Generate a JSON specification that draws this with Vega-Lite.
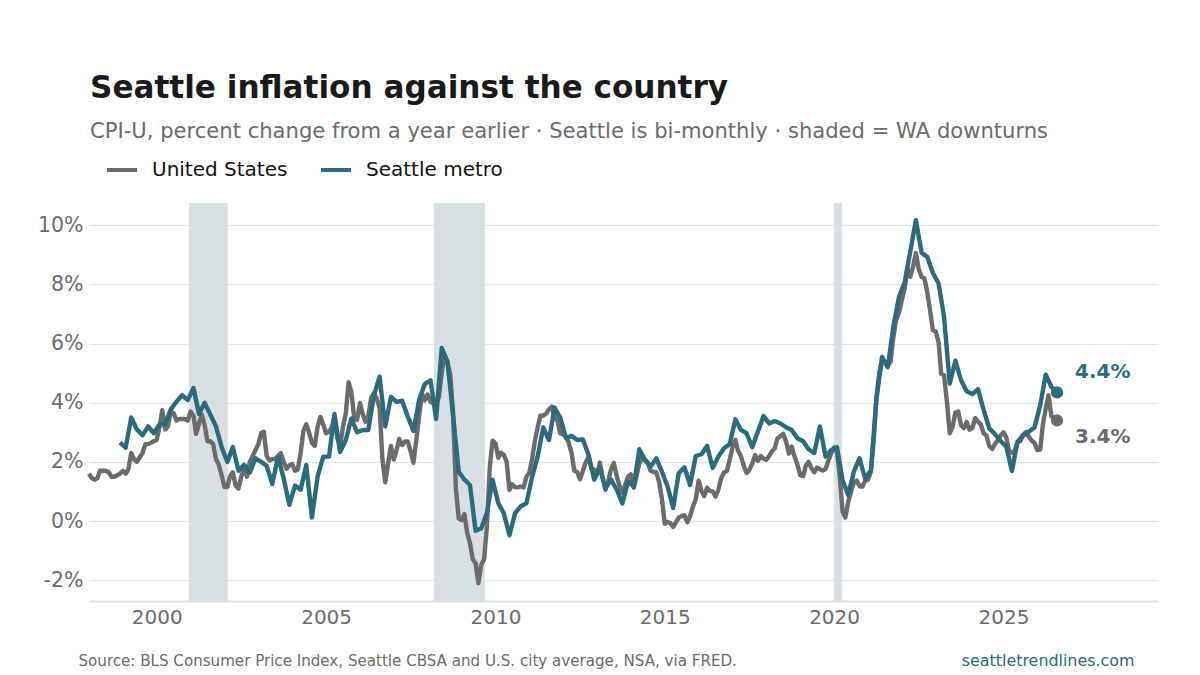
{"$schema":"https://vega.github.io/schema/vega-lite/v6.json","width":1069,"height":398,"autosize":{"type":"none"},"padding":{"left":89,"top":203,"right":42,"bottom":74},"background":"white",
"title":{"text":"Seattle inflation against the country","subtitle":"CPI-U, percent change from a year earlier · Seattle is bi-monthly · shaded = WA downturns","anchor":"start","frame":"group","font":"DejaVu Sans","fontSize":31.1,"fontWeight":"bold","color":"#1a1a1a","subtitleFont":"DejaVu Sans","subtitleFontSize":21.1,"subtitleColor":"#6b6b6b","subtitlePadding":17,"offset":11,"dx":1},
"config":{"view":{"stroke":null},"font":"DejaVu Sans"},
"datasets":{
"downturns":[{"start":"2000-12-15","end":"2002-02-05"},{"start":"2008-03-10","end":"2009-09-10"},{"start":"2020-01-01","end":"2020-03-28"}],
"latest":[{"series":"United States","date":"2026-08-01","value":3.4,"label":"3.4%"},{"series":"Seattle metro","date":"2026-08-01","value":4.35,"label":"4.4%"}],
"us":[
{"date":"1998-01-01","value":1.6},{"date":"1998-02-01","value":1.45},{"date":"1998-03-01","value":1.4},{"date":"1998-04-01","value":1.45},{"date":"1998-05-01","value":1.7},{"date":"1998-06-01","value":1.7},{"date":"1998-07-01","value":1.7},{"date":"1998-08-01","value":1.65},{"date":"1998-09-01","value":1.5},{"date":"1998-10-01","value":1.5},{"date":"1998-11-01","value":1.55},{"date":"1998-12-01","value":1.6},
{"date":"1999-01-01","value":1.7},{"date":"1999-02-01","value":1.6},{"date":"1999-03-01","value":1.75},{"date":"1999-04-01","value":2.3},{"date":"1999-05-01","value":2.1},{"date":"1999-06-01","value":2.0},{"date":"1999-07-01","value":2.15},{"date":"1999-08-01","value":2.3},{"date":"1999-09-01","value":2.6},{"date":"1999-10-01","value":2.6},{"date":"1999-11-01","value":2.65},{"date":"1999-12-01","value":2.7},
{"date":"2000-01-01","value":2.75},{"date":"2000-02-01","value":3.2},{"date":"2000-03-01","value":3.75},{"date":"2000-04-01","value":3.1},{"date":"2000-05-01","value":3.2},{"date":"2000-06-01","value":3.7},{"date":"2000-07-01","value":3.65},{"date":"2000-08-01","value":3.4},{"date":"2000-09-01","value":3.45},{"date":"2000-10-01","value":3.45},{"date":"2000-11-01","value":3.45},{"date":"2000-12-01","value":3.4},
{"date":"2001-01-01","value":3.7},{"date":"2001-02-01","value":3.55},{"date":"2001-03-01","value":2.95},{"date":"2001-04-01","value":3.3},{"date":"2001-05-01","value":3.6},{"date":"2001-06-01","value":3.25},{"date":"2001-07-01","value":2.7},{"date":"2001-08-01","value":2.7},{"date":"2001-09-01","value":2.6},{"date":"2001-10-01","value":2.1},{"date":"2001-11-01","value":1.9},{"date":"2001-12-01","value":1.55},
{"date":"2002-01-01","value":1.15},{"date":"2002-02-01","value":1.15},{"date":"2002-03-01","value":1.5},{"date":"2002-04-01","value":1.65},{"date":"2002-05-01","value":1.2},{"date":"2002-06-01","value":1.1},{"date":"2002-07-01","value":1.5},{"date":"2002-08-01","value":1.8},{"date":"2002-09-01","value":1.5},{"date":"2002-10-01","value":2.0},{"date":"2002-11-01","value":2.2},{"date":"2002-12-01","value":2.4},
{"date":"2003-01-01","value":2.6},{"date":"2003-02-01","value":2.98},{"date":"2003-03-01","value":3.02},{"date":"2003-04-01","value":2.2},{"date":"2003-05-01","value":2.05},{"date":"2003-06-01","value":2.1},{"date":"2003-07-01","value":2.1},{"date":"2003-08-01","value":2.2},{"date":"2003-09-01","value":2.3},{"date":"2003-10-01","value":2.0},{"date":"2003-11-01","value":1.77},{"date":"2003-12-01","value":1.88},
{"date":"2004-01-01","value":1.93},{"date":"2004-02-01","value":1.7},{"date":"2004-03-01","value":1.74},{"date":"2004-04-01","value":2.3},{"date":"2004-05-01","value":3.05},{"date":"2004-06-01","value":3.27},{"date":"2004-07-01","value":2.99},{"date":"2004-08-01","value":2.65},{"date":"2004-09-01","value":2.54},{"date":"2004-10-01","value":3.19},{"date":"2004-11-01","value":3.52},{"date":"2004-12-01","value":3.26},
{"date":"2005-01-01","value":2.97},{"date":"2005-02-01","value":3.01},{"date":"2005-03-01","value":3.15},{"date":"2005-04-01","value":3.51},{"date":"2005-05-01","value":2.8},{"date":"2005-06-01","value":2.53},{"date":"2005-07-01","value":3.17},{"date":"2005-08-01","value":3.64},{"date":"2005-09-01","value":4.69},{"date":"2005-10-01","value":4.35},{"date":"2005-11-01","value":3.46},{"date":"2005-12-01","value":3.42},
{"date":"2006-01-01","value":3.99},{"date":"2006-02-01","value":3.6},{"date":"2006-03-01","value":3.36},{"date":"2006-04-01","value":3.55},{"date":"2006-05-01","value":4.17},{"date":"2006-06-01","value":4.32},{"date":"2006-07-01","value":4.15},{"date":"2006-08-01","value":3.82},{"date":"2006-09-01","value":2.06},{"date":"2006-10-01","value":1.31},{"date":"2006-11-01","value":1.97},{"date":"2006-12-01","value":2.54},
{"date":"2007-01-01","value":2.08},{"date":"2007-02-01","value":2.42},{"date":"2007-03-01","value":2.78},{"date":"2007-04-01","value":2.57},{"date":"2007-05-01","value":2.69},{"date":"2007-06-01","value":2.69},{"date":"2007-07-01","value":2.36},{"date":"2007-08-01","value":1.97},{"date":"2007-09-01","value":2.76},{"date":"2007-10-01","value":3.54},{"date":"2007-11-01","value":4.31},{"date":"2007-12-01","value":4.08},
{"date":"2008-01-01","value":4.28},{"date":"2008-02-01","value":4.03},{"date":"2008-03-01","value":3.98},{"date":"2008-04-01","value":3.94},{"date":"2008-05-01","value":4.18},{"date":"2008-06-01","value":5.02},{"date":"2008-07-01","value":5.6},{"date":"2008-08-01","value":5.37},{"date":"2008-09-01","value":4.94},{"date":"2008-10-01","value":3.66},{"date":"2008-11-01","value":1.07},{"date":"2008-12-01","value":0.09},
{"date":"2009-01-01","value":0.03},{"date":"2009-02-01","value":0.24},{"date":"2009-03-01","value":-0.38},{"date":"2009-04-01","value":-0.74},{"date":"2009-05-01","value":-1.28},{"date":"2009-06-01","value":-1.43},{"date":"2009-07-01","value":-2.1},{"date":"2009-08-01","value":-1.48},{"date":"2009-09-01","value":-1.29},{"date":"2009-10-01","value":-0.18},{"date":"2009-11-01","value":1.84},{"date":"2009-12-01","value":2.72},
{"date":"2010-01-01","value":2.63},{"date":"2010-02-01","value":2.14},{"date":"2010-03-01","value":2.31},{"date":"2010-04-01","value":2.24},{"date":"2010-05-01","value":2.02},{"date":"2010-06-01","value":1.05},{"date":"2010-07-01","value":1.24},{"date":"2010-08-01","value":1.15},{"date":"2010-09-01","value":1.14},{"date":"2010-10-01","value":1.17},{"date":"2010-11-01","value":1.14},{"date":"2010-12-01","value":1.5},
{"date":"2011-01-01","value":1.63},{"date":"2011-02-01","value":2.11},{"date":"2011-03-01","value":2.68},{"date":"2011-04-01","value":3.16},{"date":"2011-05-01","value":3.57},{"date":"2011-06-01","value":3.56},{"date":"2011-07-01","value":3.63},{"date":"2011-08-01","value":3.77},{"date":"2011-09-01","value":3.87},{"date":"2011-10-01","value":3.53},{"date":"2011-11-01","value":3.39},{"date":"2011-12-01","value":2.96},
{"date":"2012-01-01","value":2.93},{"date":"2012-02-01","value":2.87},{"date":"2012-03-01","value":2.65},{"date":"2012-04-01","value":2.3},{"date":"2012-05-01","value":1.7},{"date":"2012-06-01","value":1.66},{"date":"2012-07-01","value":1.41},{"date":"2012-08-01","value":1.69},{"date":"2012-09-01","value":1.99},{"date":"2012-10-01","value":2.16},{"date":"2012-11-01","value":1.76},{"date":"2012-12-01","value":1.74},
{"date":"2013-01-01","value":1.59},{"date":"2013-02-01","value":1.98},{"date":"2013-03-01","value":1.47},{"date":"2013-04-01","value":1.06},{"date":"2013-05-01","value":1.36},{"date":"2013-06-01","value":1.75},{"date":"2013-07-01","value":1.96},{"date":"2013-08-01","value":1.52},{"date":"2013-09-01","value":1.18},{"date":"2013-10-01","value":0.96},{"date":"2013-11-01","value":1.24},{"date":"2013-12-01","value":1.5},
{"date":"2014-01-01","value":1.58},{"date":"2014-02-01","value":1.13},{"date":"2014-03-01","value":1.51},{"date":"2014-04-01","value":1.95},{"date":"2014-05-01","value":2.13},{"date":"2014-06-01","value":2.07},{"date":"2014-07-01","value":1.99},{"date":"2014-08-01","value":1.7},{"date":"2014-09-01","value":1.66},{"date":"2014-10-01","value":1.66},{"date":"2014-11-01","value":1.32},{"date":"2014-12-01","value":0.76},
{"date":"2015-01-01","value":-0.09},{"date":"2015-02-01","value":-0.03},{"date":"2015-03-01","value":-0.07},{"date":"2015-04-01","value":-0.2},{"date":"2015-05-01","value":-0.04},{"date":"2015-06-01","value":0.12},{"date":"2015-07-01","value":0.17},{"date":"2015-08-01","value":0.2},{"date":"2015-09-01","value":-0.04},{"date":"2015-10-01","value":0.17},{"date":"2015-11-01","value":0.5},{"date":"2015-12-01","value":0.73},
{"date":"2016-01-01","value":1.37},{"date":"2016-02-01","value":1.02},{"date":"2016-03-01","value":0.85},{"date":"2016-04-01","value":1.13},{"date":"2016-05-01","value":1.02},{"date":"2016-06-01","value":1.0},{"date":"2016-07-01","value":0.83},{"date":"2016-08-01","value":1.06},{"date":"2016-09-01","value":1.46},{"date":"2016-10-01","value":1.64},{"date":"2016-11-01","value":1.69},{"date":"2016-12-01","value":2.07},
{"date":"2017-01-01","value":2.5},{"date":"2017-02-01","value":2.74},{"date":"2017-03-01","value":2.38},{"date":"2017-04-01","value":2.2},{"date":"2017-05-01","value":1.87},{"date":"2017-06-01","value":1.63},{"date":"2017-07-01","value":1.73},{"date":"2017-08-01","value":1.94},{"date":"2017-09-01","value":2.23},{"date":"2017-10-01","value":2.04},{"date":"2017-11-01","value":2.2},{"date":"2017-12-01","value":2.11},
{"date":"2018-01-01","value":2.07},{"date":"2018-02-01","value":2.21},{"date":"2018-03-01","value":2.36},{"date":"2018-04-01","value":2.46},{"date":"2018-05-01","value":2.8},{"date":"2018-06-01","value":2.87},{"date":"2018-07-01","value":2.95},{"date":"2018-08-01","value":2.7},{"date":"2018-09-01","value":2.28},{"date":"2018-10-01","value":2.52},{"date":"2018-11-01","value":2.18},{"date":"2018-12-01","value":1.91},
{"date":"2019-01-01","value":1.55},{"date":"2019-02-01","value":1.52},{"date":"2019-03-01","value":1.86},{"date":"2019-04-01","value":2.0},{"date":"2019-05-01","value":1.79},{"date":"2019-06-01","value":1.65},{"date":"2019-07-01","value":1.81},{"date":"2019-08-01","value":1.75},{"date":"2019-09-01","value":1.71},{"date":"2019-10-01","value":1.76},{"date":"2019-11-01","value":2.05},{"date":"2019-12-01","value":2.29},
{"date":"2020-01-01","value":2.49},{"date":"2020-02-01","value":2.33},{"date":"2020-03-01","value":1.54},{"date":"2020-04-01","value":0.33},{"date":"2020-05-01","value":0.12},{"date":"2020-06-01","value":0.65},{"date":"2020-07-01","value":0.99},{"date":"2020-08-01","value":1.31},{"date":"2020-09-01","value":1.37},{"date":"2020-10-01","value":1.18},{"date":"2020-11-01","value":1.17},{"date":"2020-12-01","value":1.36},
{"date":"2021-01-01","value":1.4},{"date":"2021-02-01","value":1.68},{"date":"2021-03-01","value":2.62},{"date":"2021-04-01","value":4.16},{"date":"2021-05-01","value":4.99},{"date":"2021-06-01","value":5.39},{"date":"2021-07-01","value":5.37},{"date":"2021-08-01","value":5.25},{"date":"2021-09-01","value":5.39},{"date":"2021-10-01","value":6.22},{"date":"2021-11-01","value":6.81},{"date":"2021-12-01","value":7.04},
{"date":"2022-01-01","value":7.48},{"date":"2022-02-01","value":7.87},{"date":"2022-03-01","value":8.54},{"date":"2022-04-01","value":8.26},{"date":"2022-05-01","value":8.58},{"date":"2022-06-01","value":9.06},{"date":"2022-07-01","value":8.52},{"date":"2022-08-01","value":8.26},{"date":"2022-09-01","value":8.2},{"date":"2022-10-01","value":7.75},{"date":"2022-11-01","value":7.11},{"date":"2022-12-01","value":6.45},
{"date":"2023-01-01","value":6.41},{"date":"2023-02-01","value":6.04},{"date":"2023-03-01","value":4.98},{"date":"2023-04-01","value":4.93},{"date":"2023-05-01","value":4.05},{"date":"2023-06-01","value":2.97},{"date":"2023-07-01","value":3.18},{"date":"2023-08-01","value":3.67},{"date":"2023-09-01","value":3.7},{"date":"2023-10-01","value":3.24},{"date":"2023-11-01","value":3.14},{"date":"2023-12-01","value":3.35},
{"date":"2024-01-01","value":3.09},{"date":"2024-02-01","value":3.15},{"date":"2024-03-01","value":3.48},{"date":"2024-04-01","value":3.36},{"date":"2024-05-01","value":3.27},{"date":"2024-06-01","value":2.97},{"date":"2024-07-01","value":2.89},{"date":"2024-08-01","value":2.53},{"date":"2024-09-01","value":2.44},{"date":"2024-10-01","value":2.6},{"date":"2024-11-01","value":2.75},{"date":"2024-12-01","value":2.89},
{"date":"2025-01-01","value":3.0},{"date":"2025-02-01","value":2.82},{"date":"2025-03-01","value":2.39},{"date":"2025-04-01","value":2.31},{"date":"2025-05-01","value":2.38},{"date":"2025-06-01","value":2.67},{"date":"2025-07-01","value":2.7},{"date":"2025-08-01","value":2.92},{"date":"2025-09-01","value":3.01},{"date":"2025-10-01","value":2.85},{"date":"2025-11-01","value":2.72},{"date":"2025-12-01","value":2.65},
{"date":"2026-01-01","value":2.4},{"date":"2026-02-01","value":2.42},{"date":"2026-03-01","value":3.25},{"date":"2026-04-01","value":3.8},{"date":"2026-05-01","value":4.25},{"date":"2026-06-01","value":3.55},{"date":"2026-07-01","value":3.45},{"date":"2026-08-01","value":3.4}],
"seattle":[
{"date":"1998-12-01","value":2.65},{"date":"1999-02-01","value":2.48},{"date":"1999-04-01","value":3.5},{"date":"1999-06-01","value":3.1},{"date":"1999-08-01","value":2.9},{"date":"1999-10-01","value":3.2},{"date":"1999-12-01","value":2.97},
{"date":"2000-02-01","value":3.27},{"date":"2000-04-01","value":3.28},{"date":"2000-06-01","value":3.78},{"date":"2000-08-01","value":4.03},{"date":"2000-10-01","value":4.26},{"date":"2000-12-01","value":4.09},
{"date":"2001-02-01","value":4.5},{"date":"2001-04-01","value":3.62},{"date":"2001-06-01","value":4.0},{"date":"2001-08-01","value":3.6},{"date":"2001-10-01","value":3.2},{"date":"2001-12-01","value":2.5},
{"date":"2002-02-01","value":2.0},{"date":"2002-04-01","value":2.5},{"date":"2002-06-01","value":1.7},{"date":"2002-08-01","value":1.9},{"date":"2002-10-01","value":1.64},{"date":"2002-12-01","value":2.12},
{"date":"2003-02-01","value":2.0},{"date":"2003-04-01","value":1.87},{"date":"2003-06-01","value":1.25},{"date":"2003-08-01","value":2.18},{"date":"2003-10-01","value":1.45},{"date":"2003-12-01","value":0.55},
{"date":"2004-02-01","value":1.2},{"date":"2004-04-01","value":1.06},{"date":"2004-06-01","value":1.9},{"date":"2004-08-01","value":0.12},{"date":"2004-10-01","value":1.5},{"date":"2004-12-01","value":2.18},
{"date":"2005-02-01","value":2.18},{"date":"2005-04-01","value":3.62},{"date":"2005-06-01","value":2.33},{"date":"2005-08-01","value":2.74},{"date":"2005-10-01","value":3.47},{"date":"2005-12-01","value":3.0},
{"date":"2006-02-01","value":3.08},{"date":"2006-04-01","value":3.08},{"date":"2006-06-01","value":4.26},{"date":"2006-08-01","value":4.88},{"date":"2006-10-01","value":3.2},{"date":"2006-12-01","value":4.2},
{"date":"2007-02-01","value":4.03},{"date":"2007-04-01","value":4.07},{"date":"2007-06-01","value":3.53},{"date":"2007-08-01","value":3.05},{"date":"2007-10-01","value":4.1},{"date":"2007-12-01","value":4.63},
{"date":"2008-02-01","value":4.76},{"date":"2008-04-01","value":3.45},{"date":"2008-06-01","value":5.85},{"date":"2008-08-01","value":5.4},{"date":"2008-10-01","value":3.58},{"date":"2008-12-01","value":1.67},
{"date":"2009-02-01","value":1.4},{"date":"2009-04-01","value":1.22},{"date":"2009-06-01","value":-0.33},{"date":"2009-08-01","value":-0.24},{"date":"2009-10-01","value":0.27},{"date":"2009-12-01","value":1.4},
{"date":"2010-02-01","value":0.6},{"date":"2010-04-01","value":0.27},{"date":"2010-06-01","value":-0.48},{"date":"2010-08-01","value":0.27},{"date":"2010-10-01","value":0.5},{"date":"2010-12-01","value":0.6},
{"date":"2011-02-01","value":1.5},{"date":"2011-04-01","value":2.18},{"date":"2011-06-01","value":3.17},{"date":"2011-08-01","value":2.74},{"date":"2011-10-01","value":3.83},{"date":"2011-12-01","value":3.5},
{"date":"2012-02-01","value":2.8},{"date":"2012-04-01","value":2.88},{"date":"2012-06-01","value":2.74},{"date":"2012-08-01","value":2.76},{"date":"2012-10-01","value":2.24},{"date":"2012-12-01","value":1.4},
{"date":"2013-02-01","value":1.8},{"date":"2013-04-01","value":1.1},{"date":"2013-06-01","value":1.4},{"date":"2013-08-01","value":1.06},{"date":"2013-10-01","value":0.6},{"date":"2013-12-01","value":1.34},
{"date":"2014-02-01","value":1.17},{"date":"2014-04-01","value":2.43},{"date":"2014-06-01","value":2.07},{"date":"2014-08-01","value":1.84},{"date":"2014-10-01","value":2.12},{"date":"2014-12-01","value":1.67},
{"date":"2015-02-01","value":1.17},{"date":"2015-04-01","value":0.44},{"date":"2015-06-01","value":1.62},{"date":"2015-08-01","value":1.82},{"date":"2015-10-01","value":1.22},{"date":"2015-12-01","value":2.2},
{"date":"2016-02-01","value":2.26},{"date":"2016-04-01","value":2.54},{"date":"2016-06-01","value":1.8},{"date":"2016-08-01","value":2.18},{"date":"2016-10-01","value":2.46},{"date":"2016-12-01","value":2.6},
{"date":"2017-02-01","value":3.44},{"date":"2017-04-01","value":3.08},{"date":"2017-06-01","value":2.97},{"date":"2017-08-01","value":2.5},{"date":"2017-10-01","value":3.02},{"date":"2017-12-01","value":3.55},
{"date":"2018-02-01","value":3.3},{"date":"2018-04-01","value":3.38},{"date":"2018-06-01","value":3.3},{"date":"2018-08-01","value":3.17},{"date":"2018-10-01","value":3.08},{"date":"2018-12-01","value":2.8},
{"date":"2019-02-01","value":2.7},{"date":"2019-04-01","value":2.43},{"date":"2019-06-01","value":2.3},{"date":"2019-08-01","value":3.2},{"date":"2019-10-01","value":2.18},{"date":"2019-12-01","value":2.4},
{"date":"2020-02-01","value":2.5},{"date":"2020-04-01","value":1.39},{"date":"2020-06-01","value":0.88},{"date":"2020-08-01","value":1.67},{"date":"2020-10-01","value":2.12},{"date":"2020-12-01","value":1.44},
{"date":"2021-02-01","value":1.72},{"date":"2021-04-01","value":4.1},{"date":"2021-06-01","value":5.55},{"date":"2021-08-01","value":5.2},{"date":"2021-10-01","value":6.57},{"date":"2021-12-01","value":7.58},
{"date":"2022-02-01","value":8.08},{"date":"2022-04-01","value":9.1},{"date":"2022-06-01","value":10.17},{"date":"2022-08-01","value":9.07},{"date":"2022-10-01","value":8.93},{"date":"2022-12-01","value":8.39},
{"date":"2023-02-01","value":8.03},{"date":"2023-04-01","value":6.9},{"date":"2023-06-01","value":4.65},{"date":"2023-08-01","value":5.42},{"date":"2023-10-01","value":4.76},{"date":"2023-12-01","value":4.39},
{"date":"2024-02-01","value":4.29},{"date":"2024-04-01","value":4.46},{"date":"2024-06-01","value":3.75},{"date":"2024-08-01","value":3.13},{"date":"2024-10-01","value":2.94},{"date":"2024-12-01","value":2.71},
{"date":"2025-02-01","value":2.51},{"date":"2025-04-01","value":1.69},{"date":"2025-06-01","value":2.68},{"date":"2025-08-01","value":2.9},{"date":"2025-10-01","value":3.02},{"date":"2025-12-01","value":3.16},
{"date":"2026-02-01","value":3.92},{"date":"2026-04-01","value":4.95},{"date":"2026-06-01","value":4.54},{"date":"2026-08-01","value":4.35}]
},
"encoding":{
"x":{"field":"date","type":"temporal","scale":{"domain":["1998-01-01","2029-07-25"]},"axis":{"title":"Source: BLS Consumer Price Index, Seattle CBSA and U.S. city average, NSA, via FRED.","titleFont":"DejaVu Sans","titleFontSize":15.1,"titleFontWeight":"normal","titleColor":"#6b6b6b","titleAnchor":"start","titleAlign":"left","titleBaseline":"alphabetic","titleX":-11,"titleY":64,"format":"%Y","tickCount":{"interval":"year","step":5},"ticks":false,"grid":false,"domainColor":"#dddddd","domainWidth":2,"labelFont":"DejaVu Sans","labelFontSize":20,"labelColor":"#6b6b6b","labelPadding":6,"labelFlush":false}}
},
"layer":[
{"data":{"name":"downturns"},"mark":{"type":"rect","color":"#d8e0e3"},"encoding":{"x":{"field":"start","type":"temporal"},"x2":{"field":"end"}}},
{"data":{"name":"us"},"mark":{"type":"line","strokeWidth":4.4,"strokeJoin":"round","strokeCap":"butt"},"encoding":{
"y":{"field":"value","type":"quantitative","scale":{"domain":[-2.7,10.75],"nice":false},"axis":{"values":[-2,0,2,4,6,8,10],"labelExpr":"datum.value + '%'","domain":false,"ticks":false,"gridColor":"#e4e4e4","gridWidth":1,"labelFont":"DejaVu Sans","labelFontSize":20.5,"labelColor":"#6b6b6b","labelPadding":6,"title":"seattletrendlines.com","titleFont":"DejaVu Sans","titleFontSize":15.9,"titleFontWeight":"normal","titleColor":"#2a6b7c","titleAngle":0,"titleAlign":"right","titleBaseline":"alphabetic","titleX":1045,"titleY":462}},
"color":{"datum":"United States","type":"nominal","scale":{"domain":["United States","Seattle metro"],"range":["#6b6b6b","#2a6b7c"]},"legend":{"title":null,"orient":"none","legendX":16,"legendY":-50,"direction":"horizontal","symbolType":"stroke","symbolSize":900,"symbolStrokeWidth":4,"labelFont":"DejaVu Sans","labelFontSize":20,"labelColor":"#111111","labelOffset":13,"columnPadding":25,"padding":0}}}},
{"data":{"name":"seattle"},"mark":{"type":"line","strokeWidth":4.4,"strokeJoin":"round","strokeCap":"butt"},"encoding":{"y":{"field":"value","type":"quantitative"},"color":{"datum":"Seattle metro","type":"nominal"}}},
{"data":{"name":"latest"},"mark":{"type":"point","filled":true,"opacity":1,"size":150},"encoding":{"y":{"field":"value","type":"quantitative"},"color":{"field":"series","type":"nominal","legend":null}}},
{"data":{"name":"latest"},"transform":[{"filter":"datum.series === 'Seattle metro'"}],"mark":{"type":"text","align":"left","baseline":"middle","dx":18,"dy":-20,"fontSize":20,"fontWeight":"bold","font":"DejaVu Sans"},"encoding":{"y":{"field":"value","type":"quantitative"},"text":{"field":"label"},"color":{"field":"series","type":"nominal","legend":null}}},
{"data":{"name":"latest"},"transform":[{"filter":"datum.series === 'United States'"}],"mark":{"type":"text","align":"left","baseline":"middle","dx":18,"dy":17,"fontSize":20,"fontWeight":"bold","font":"DejaVu Sans"},"encoding":{"y":{"field":"value","type":"quantitative"},"text":{"field":"label"},"color":{"field":"series","type":"nominal","legend":null}}}
]}
